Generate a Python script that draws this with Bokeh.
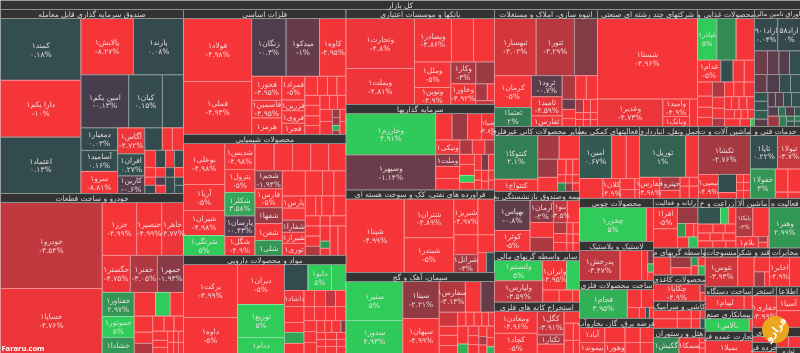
from bokeh.plotting import figure
from bokeh.models import ColumnDataSource, Range1d
from bokeh.core.properties import value
from bokeh.embed import file_html
from bokeh.resources import INLINE

def r(v):
    return ("", -5, v)
def u(pct, v):
    return ("", pct, v)

root_title = "کل بازار"

fund = ["h",
 ["v",("کمند۱",0.18,4950),("دارا یکم۱",-10,4548),("اعتماد۱",0.13,4508)],
 ["v",
  ["h",("پالایش۱",-8.27,2940),("پارند۱",0.08,2800)],
  ["h",("امین یکم۱",-0.13,2518),("کیان۱",0.15,1775),u(0.1,1113)],
  ["h",
   ["v",("دمعیار۱",0.03,821),("آسامید۱",0.16,767),("سرو۱",-8.81,803)],
   ["v",("آگاس۱",-4.72,702),("افران۱",0.27,594),("کارین۱",-0.6,472)],
   ["v",["h",u(0.1,394),r(225),r(248)],
        ["h",["v",r(187),r(105),r(88),u(0.1,88)],["v",u(0.1,170),r(95),u(-0.3,80),r(80)],
             ["v",r(153),u(0.1,86),u(0.1,144)],["v",u(0.1,153),r(86),u(0.1,72),u(0.1,72)]]]]]]

auto = ["h",
 ["v",("خودرو۱",-3.54,8729),("خساپا۱",-4.76,6597)],
 ["v",
  ["h",("خزر۱",-4.99,1818),("خنصیر۱",-4.99,1325),("خاهر۱",-4.77,1150)],
  ["h",("خگستر۱",-4.75,1036),("خفنر۱",-3.05,999),("خمهر۱",-1.93,962)],
  ["h",["v",("خفناور۱",2.97,768),("خموتور۱",5,672),("خشادا۱",3,512)],
   ["v",["h",r(504),u(5,348),r(312)],
    ["h",["v",r(296),r(204),u(-3,185)],
     ["v",["h",r(172),r(150),r(142)],
      ["h",["v",r(135),r(105),r(90)],["h",["v",r(66),r(66)],["v",r(55),r(55)],["v",r(55),r(55)]]]]]]]]]

metals = ["h",
 ["v",("فولاد۱",-4.98,4284),("فملی۱",-4.93,3604)],
 ["v",
  ["h",("زنگان۱",-0.3,1984),("میدکو۱",-1,1926),("کاوه۱",-4.95,1524)],
  ["h",
   ["v",("فخوز۱",-4.95,720),("فاسمین۱",-4.95,525),("هرمز۱",-4.9,495)],
   ["v",("فمراد۱",-5,547),("فزرین۱",-4.9,247),("فروی۱",-4.9,290),("فجر۱",-4.9,258)],
   ["v",["h",r(238),r(190),r(180),r(171)],
    ["h",["v",r(150),r(158),r(143),r(135)],
     ["v",["h",r(133),r(112),r(119)],
      ["h",["v",r(150),r(162)],["v",u(-2.5,60),u(-2.5,60),u(4,38),u(-2.5,30)],["v",r(72),r(78)]]]]]]]]

chem = ["h",
 ["v",("بوعلی۱",-4.98,1681),("آریا۱",-5,1066),("شیران۱",-4.98,1025),("شرنگی۱",5,820)],
 ["v",("شدیس۱",-4.98,780),("پترول۱",-5,690),("شکلر۱",3.58,705),("پارسان۱",-0.43,615),("شگل۱",-4.9,570)],
 ["v",["h",r(521),r(497),r(494),r(486),r(472)],
  ["h",
   ["v",("شجم۱",-1.94,486),("فارس۱",-5,513),("شفها۱",-2.5,432),("شفن۱",-5,459),("شلی۱",3,405)],
   ["v",r(575),("پارس۱",-4.9,276),r(276),("شفارا۱",-2.5,276),("شیراز۱",-4.9,253),("توری۱",-4.9,276)],
   ["v",["h",r(425),r(282),r(300)],
    ["h",r(206),r(120),r(240),r(240)],
    ["h",["v",r(150),r(150),r(150),u(-3,135)],
     ["v",["h",r(100),r(160)],
      ["h",["v",r(150),u(3,70),r(70)],["h",r(232),r(232)]]]]]]]]

pharma = ["h",
 ["v",("برکت۱",-4.99,2862),("داوه۱",-5,1944)],
 ["v",("دیران۱",-5,1880),("توزیع۱",5,1551),("ددام۱",5,752)],
 ["v",["h",u(0.1,611),("دابو۱",5,611),u(5,377)],
  ["h",["v",("داشاد۱",-4.9,312),r(312),r(195),u(3.5,215),r(195)],
   ["v",["h",r(168),r(176),u(-3.5,160),r(168)],
    ["h",r(147),r(154),r(140),r(147)],
    ["h",["v",r(138),r(138),r(138)],
     ["v",["h",r(96),r(84),r(108),u(-2,60)],
      ["h",["v",r(63),r(63),r(63)],["v",r(77),r(77),r(77)],["v",r(66),r(66),r(66)]]]]]]]]

banks = ["h",
 ["v",("وتجارت۱",-4.8,3425),("وبملت۱",-4.81,2466)],
 ["v",["h",("وبصادر۱",-4.86,1610),r(957),r(914)],
  ["h",["v",("وملل۱",-5,927),("ونوین۱",-4.9,618)],
   ["v",["h",("وکار۱",-3,550),u(-2.5,407)],
    ["h",("وخاور۱",-4.92,512),["v",["h",u(-2.8,196),r(119)],u(-3.5,74)]]]]]]

invest = ["h",
 ["v",("وخارزم۱",4.91,3735),("وسپهر۱",-1.14,3150)],
 ["v",["h",r(437),u(-2.5,411),r(371),("صبا۱",-4.8,345)],
  ["h",("ونیکی۱",-4.9,348),u(-3,181),r(181),u(-3,138)],
  ["h",["v",("وملت۱",-2,288),r(288),r(276)],
   ["v",r(150),r(165),u(5,105),r(112)],
   ["v",["h",r(112),u(-1.5,112),r(96)],["h",["v",r(70),r(70)],["v",r(75),r(60)],["v",r(60),r(60)]]]]]]

refinery = ["h",
 ("شپنا۱",-4.99,4300),
 ["v",("شتران۱",-4.89,1930),("شبندر۱",-5,1733)],
 ["v",["h",("شبریز۱",-4.97,864),r(594)],
  ["h",["v",r(480),("شرانل۱",-3,432)],["v",r(297),["h",r(170),u(0.1,160)]]]]]

cement = ["h",
 ["v",("سنیر۱",5,2223),("سدور۱",4.93,1881)],
 ["v",("سیتا۱",-2.21,1350),("سپهان۱",-4.99,1277)],
 ["v",["h",("سفارس۱",-3.13,806),r(480),u(-1,418)],
  ["h",["v",u(-3.8,259),r(167),r(185),r(148)],
   ["v",["h",r(116),r(115),r(107),r(93),r(84)],
    ["h",["v",r(190),u(4,100)],["v",r(100),r(95),r(95)],["v",r(85),u(-3,70),r(70)],["v",r(85),r(70),u(4,50)]]]]]]

housing = ["v",
 ["h",("ثبهساز۱",-4.02,2377),("ثنور۱",-3.29,2183),u(-1.8,1311)],
 ["h",["v",("کرمان۱",-5,1175),("ثعتما۱",2,697)],
  ["v",("ثرود۱",-0.7,651),("ثامید۱",-4.59,589),("ثفارس۱",-4.9,325)],
  ["v",["h",u(-3,319),r(252),r(264)],
   ["h",["v",u(-1.2,133),r(120),r(106)],
    ["v",["h",u(-3,104),r(91),r(91)],["h",r(56),r(49),r(49)],["h",r(56),r(49),r(49)]]]]]]

holding = ["v",
 ("شستا۱",-4.96,8050),
 ["h",("وغدیر۱",-4.73,1788),["v",("وامید۱",-4.9,464),("وبانک۱",-4.9,265)],r(218)]]

food = ["v",
 ["h",("غپاذر۱",5,798),u(2.5,798),r(756)],
 ["h",("غدام۱",-5,506),u(0.2,264),r(242),r(220)],
 ["h",["v",r(210),r(165),r(150),r(135)],
  ["v",u(-3,180),r(132),r(120),u(-3,96)],
  ["v",["h",r(135),r(150),r(150)],["h",r(88),r(98),r(98),r(98)],["h",r(90),r(60),r(60),r(60)],["h",r(120),r(80),u(5,30)]]]]

bonds = ["v",
 ["h",("اراد۹۰۱",0.04,731),("اراد۵۸",0,718)],
 ["h",u(-1.2,299),u(-0.8,265),u(-0.5,242),u(0.2,253)],
 ["h",u(-1,219),u(-0.4,219),u(0.2,192),u(0.2,175)],
 ["h",["v",u(0.3,115),u(0.3,120),u(0.8,115),u(-0.6,95)],
  ["v",["h",u(-0.4,105),u(-0.5,112),u(0.1,112),u(0.2,126)],
   ["h",u(-0.5,95),u(1.5,63),u(-0.4,81),u(0.4,54)],
   ["h",u(-2.5,114),u(2,72),["v",u(1.5,40),u(0.5,40)],["v",u(2,30),u(0.6,30)]]]]]

minerals = ["h",
 ["v",("کنتوکا۱",2.1,1806),("کنتواج۱",-4.9,504)],
 ["v",["h",u(-2.8,483),r(460)],
  ["h",["v",u(-2.5,342),r(266)],
   ["v",["h",r(126),r(98),r(98)],
    ["h",["v",r(63),u(2.5,63)],["v",r(56),u(-2.5,56)],["v",r(56),r(56)]]]]]]

insurance = ["h",
 ["v",("بهپاس۱",-0.8,1050),("کوثر۱",-5,735)],
 ["v",("آرمان۱",-2,506),r(345),u(-3,322)],
 ["v",["h",("بنو۱",-3.5,299),r(264)],
  ["h",["v",u(-3,143),r(117),r(117)],["v",["h",r(72),r(72)],["h",["v",r(54),r(54)],["v",r(54),r(54)]]]]]]

brokers = ["h",
 ["v",("ولنستم۱",5,940),("ولپارس۱",-3.59,987)],
 ["v",["h",("وایران۱",-4.95,679),u(5,362)],["h",r(192),r(156),r(80)]]]

mining = ["h",
 ["v",("ومعادن۱",-4.96,924),("کچاد۱",-5,840)],
 ["v",("کگل۱",-3.91,621),("تکنار۱",-3,243),r(243)],
 ["v",r(180),["h",r(153),r(102)],["h",r(117),r(78)]]]

support = ["v",
 ["h",("امین۱",0.67,1365),r(624),r(559)],
 ["h",r(460),("کلان۱",-4.9,340),["h",["v",r(160),r(130)],["v",r(50),r(40)]]]]

transport = ["v",
 ["h",("توریل۱",1,1890),r(525)],
 ["h",("حفارس۱",-4.98,420),["v",("حپترو۱",-3,260),r(160)],["v",["h",r(80),r(80)],["h",r(110),r(110)]]]]

machinery = ["v",
 ("تکشا۱",-2.76,2028),
 ["h",("تپمپی۱",-4.9,480),["v",u(0.1,324),r(108)],["h",["v",r(56),r(56),r(56)],["v",r(56),r(56),r(56)]]]]

technical = ["v",
 ["h",("تاپا۱",0.22,891),("تپولا۱",-3.7,759)],
 ["h",("خفولا۱",3,720),["v",["h",r(286),r(286)],["h",r(78),r(78)]]]]

wood = ["h",("چخزر۱",5,2278),r(238)]
plastic = ["h",("پدرخش۱",-3.47,1215),r(645),r(180),["v",u(-1.5,78),u(4,48),r(48)]]
metalware = ["h",("فجام۱",3.95,1378),["v",["h",r(252),r(216)],["h",r(132),r(66),u(0.5,44),r(44)]]]
power = ["h",["v",("آباد۱",-4.9,375),("بیموند۱",-4.9,275)],["v",r(300),("وهور۱",-4.9,220)],["v",r(225),r(165)],["v",r(195),r(143)]]

computing = ["h",
 ["v",("افرا۱",-5,515),r(466)],
 ["v",u(-2.5,332),["h",u(3,112),r(112),r(56)],["h",r(126),u(4.5,100)]]]
farming = ["v",["h",u(0.4,374),u(5,136),r(119)],["h",r(135),r(108),r(95)],["h",r(96),r(104),r(100)],["h",r(105),r(91),r(70)]]
machines2 = ["v",["h",("بایکا۱",-3,484),r(464)],["h",("بلام۱",-4.9,252),["v",u(-3,50),r(50)],r(20)]]
arts = ["h",("وهنر۱",2.99,1271)]

other_fin = ["h",r(315),["v",u(-2.5,220),r(150)],["v",u(3,63),r(66)],["v",r(63),u(4,63)]]
paper = ["h",("چکاپا۱",-4.9,736),["v",u(-2,40),r(40)]]
tile = ["v",["h",r(192),r(112),r(72),r(40)],["h",r(216),r(126),r(81),u(0.3,45)]]
hotel = ["h",("گکیش۱",2.5,400),("سمکا۱",-4.9,320),["v",r(30),r(30),r(30)]]

textile = ["h",("نتوس۱",-3.93,904)]
sugar = ["h",r(476),["v",r(221),["h",u(-2.8,150),r(70)]]]
telecom = ["h",("اخابر۱",-4.9,560),r(308)]
devices = ["h",("لپیام۱",-4.9,532),r(112)]
contract = ["h",("بالاس۱",5,528),r(36)]
wholesale = ["h",("بمیلا۱",-4.9,611)]
extraction = ["h",("حفاری۱",-4.99,768)]
info = ["v",("آسیا۱",-4.9,360),r(408)]
arts2 = ["h",r(144)]
retail = ["h",r(10)]
misc = ["h",r(132),r(132)]
parts = ["h",r(10)]

market = ["h",
 ["v",("صندوق سرمایه گذاری قابل معامله",33672,fund),("خودرو و ساخت قطعات",29280,auto)],
 ["v",("فلزات اساسی",20312,metals),("محصولات شیمیایی",19662,chem),("مواد و محصولات دارویی",15925,pharma)],
 ["v",("بانکها و موسسات اعتباری",14107,banks),("سرمایه گذاریها",12697,invest),
      ("فراورده های نفتی، کک و سوخت هسته ای",12251,refinery),("سیمان، آهک و گچ",12028,cement)],
 ["v",
  ["h",("انبوه سازی، املاک و مستغلات",12051,housing),("شرکتهای چند رشته ای صنعتی",11700,holding),
       ("محصولات غذایی و",6669,food),("اوراق تامین مالی",5382,bonds)],
  ["h",
   ["v",("سایر محصولات کانی غیرفلزی",5525,minerals),("بیمه وصندوق بازنشستگی به",5100,insurance),
        ("سایر واسطه گریهای مالی",4310,brokers),("استخراج کانه های فلزی",4360,mining)],
   ["v",
    ["h",("فعالیتهای کمکی به",4320,support),("حمل ونقل، انبارداری",4248,transport),
         ("ماشین آلات و ت",3744,machinery),("خدمات فنی و",3600,technical)],
    ["h",
     ["v",("محصولات چوبی",3182,wood),("لاستیک و پلاستیک",2886,plastic),
          ("ساخت محصولات فلزی",2812,metalware),("عرضه برق، گاز، بخاروآب",2590,power)],
     ["v",
      ["h",("رایانه و فعالیت",2200,computing),("زراعت و خ",1880,farming),
           ("ماشین آلا",1650,machines2),("فعالیت ه",1550,arts)],
      ["h",
       ["v",("واسطه گریهای م",1404,other_fin),("محصولات کاغذی",1352,paper),
            ("کاشی و سرامیک",1404,tile),("هتل و رستوران",1300,hotel)],
       ["v",
        ["h",("منسوجات",1254,textile),("قند و شکر",1230,sugar),("مخابرات",1200,telecom)],
        ["h",
         ["v",("ساخت دستگاه",1081,devices),("پیمانکاری صنع",1034,contract),("تجارت عمده فر",1034,wholesale)],
         ["v",("استخر",984,extraction),("هنری",360,arts2),("خرده فر",264,retail)],
         ["v",("اطلاعا",984,info),("",480,misc),("لوازم",144,parts)]]]]]]]]]]

W, H = 800, 353
HEAD = 9
BASE_SIZE = 7.5
CHAR_EM = 0.42
FA = str.maketrans("0123456789", "۰۱۲۳۴۵۶۷۸۹")

def shade(p):
    neg = (246, 53, 56)
    pos = (48, 204, 90)
    start = (66, 62, 78) if p < 0 else (52, 72, 78)
    end = neg if p < 0 else pos
    t = min(abs(p) / 5, 1)
    return tuple(round(a + (b - a) * t) for a, b in zip(start, end))

def hexa(c, lighten=0.0):
    return "#%02x%02x%02x" % tuple(round(v + (255 - v) * lighten) for v in c)

def fit(text, width, height=99):
    s = min(BASE_SIZE, (width - 2) / (max(len(text), 1) * CHAR_EM), height * 0.95)
    return "%.1fpx" % max(s, 4.5)

def total(n):
    if isinstance(n, list):
        return sum(total(c) for c in n[1:])
    return n[1] if isinstance(n[2], list) else n[2]

cells = dict(left=[], right=[], top=[], bottom=[], color=[], edge=[])
heads = dict(left=[], right=[], top=[], bottom=[])
names = dict(x=[], y=[], text=[], size=[])
titles = dict(x=[], y=[], text=[], size=[])

def place(n, x0, y0, x1, y1):
    if isinstance(n, list):
        s = total(n)
        pos = x0 if n[0] == "h" else y0
        for c in n[1:]:
            share = total(c) / s
            if n[0] == "h":
                nxt = pos + (x1 - x0) * share
                place(c, pos, y0, nxt, y1)
            else:
                nxt = pos + (y1 - y0) * share
                place(c, x0, pos, x1, nxt)
            pos = nxt
    elif isinstance(n[2], list):
        hh = min(HEAD, y1 - y0)
        heads["left"].append(x0); heads["right"].append(x1)
        heads["top"].append(y0); heads["bottom"].append(y0 + hh)
        titles["x"].append((x0 + x1) / 2); titles["y"].append(y0 + hh / 2 + 0.3)
        titles["text"].append(n[0])
        titles["size"].append(fit(n[0], x1 - x0, hh))
        if y1 - y0 > HEAD + 1:
            place(n[2], x0, y0 + HEAD, x1, y1)
    else:
        c = shade(n[1])
        cells["left"].append(x0); cells["right"].append(x1)
        cells["top"].append(y0); cells["bottom"].append(y1)
        cells["color"].append(hexa(c)); cells["edge"].append(hexa(c, 0.42))
        if n[0]:
            cx, cy = (x0 + x1) / 2, (y0 + y1) / 2
            size = fit(n[0], x1 - x0, (y1 - y0) * 0.9)
            if y1 - y0 >= 17:
                names["x"] += [cx, cx]
                names["y"] += [cy - 4.2, cy + 4.6]
                names["text"] += [n[0], (str(n[1]) + "%").translate(FA)]
                names["size"] += [size, size]
            else:
                names["x"].append(cx); names["y"].append(cy)
                names["text"].append(n[0]); names["size"].append(size)

heads["left"].append(0); heads["right"].append(W); heads["top"].append(0); heads["bottom"].append(HEAD)
titles["x"].append(W / 2); titles["y"].append(HEAD / 2); titles["text"].append(root_title)
titles["size"].append("%.1fpx" % BASE_SIZE)
place(market, 0, HEAD, W, H)

p = figure(width=W, height=H, output_backend="svg", toolbar_location=None,
           x_range=Range1d(0, W), y_range=Range1d(H, 0), min_border=0,
           background_fill_color="#a89c9c", border_fill_color="#a89c9c", outline_line_color=None)
p.axis.visible = False
p.grid.visible = False
p.styles = {"position": "fixed", "left": "0", "top": "0", "filter": "blur(0.4px)"}

p.quad(left="left", right="right", top="top", bottom="bottom", fill_color="color",
       line_color="edge", line_width=1, source=ColumnDataSource(cells))
p.quad(left="left", right="right", top="top", bottom="bottom", fill_color="#333333",
       line_color="#8f8f8f", line_width=1, source=ColumnDataSource(heads))

font = value("DejaVu Sans")
p.text(x="x", y="y", text="text", text_align="center", text_baseline="middle", text_font=font,
       text_font_size="size", text_color="#f2e4e4", text_alpha=0.9, source=ColumnDataSource(names))
p.text(x="x", y="y", text="text", text_align="center", text_baseline="middle", text_font=font,
       text_font_size="size", text_color="#d6d6d6", source=ColumnDataSource(titles))

p.circle(x=[775], y=[329], radius=13.5, fill_color="#eba61f", line_color=None)
p.text(x=[775], y=[329], text=["فرارو"], angle=[0.9], text_align="center", text_baseline="middle",
       text_font=font, text_font_size="10px", text_font_style="bold", text_color="#ffffff")
p.text(x=[1], y=[347], text=["Fararu.com"], text_align="left", text_baseline="middle",
       text_font=value("Open Sans"), text_font_size="7.5px", text_font_style="bold", text_color="#ffffff")

open("out.html", "w").write(file_html(p, INLINE))
